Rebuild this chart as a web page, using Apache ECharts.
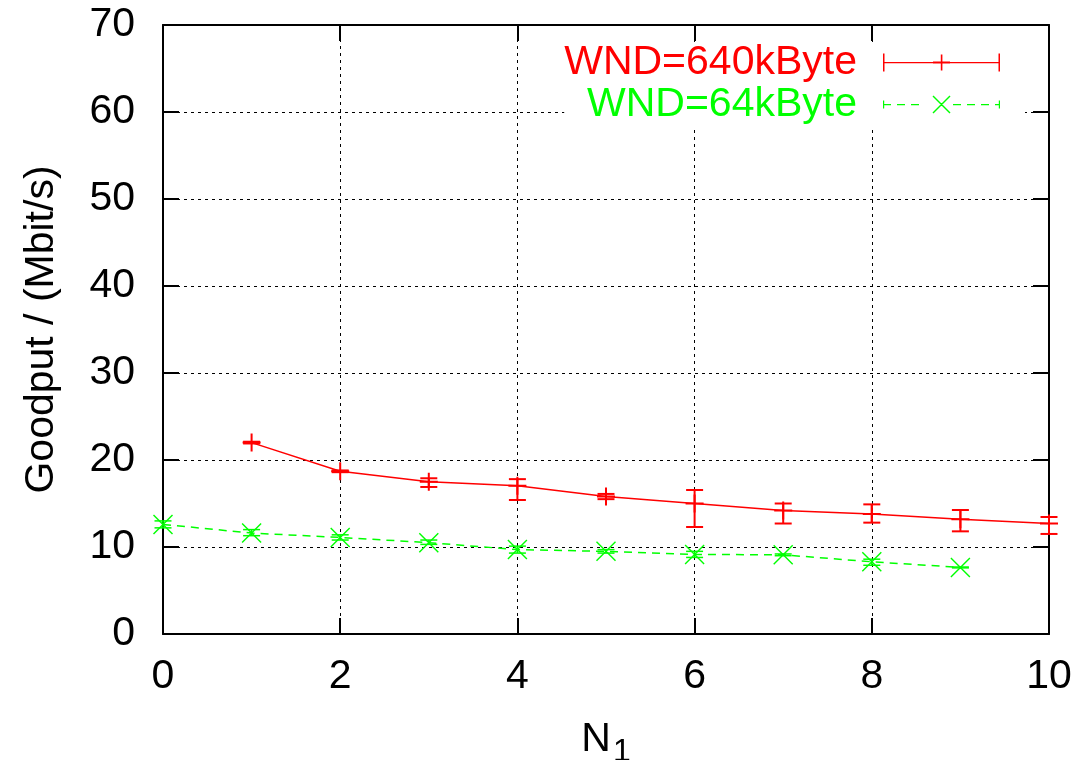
<!DOCTYPE html>
<html>
<head>
<meta charset="utf-8">
<title>Goodput over N1</title>
<script src="https://cdn.jsdelivr.net/npm/echarts@6/dist/echarts.min.js"></script>
<style>
  html, body { margin: 0; padding: 0; background: #fff; }
  #chart { width: 1090px; height: 760px; }
</style>
</head>
<body>
<div id="chart"></div>
<script>
// values
const n1Big = [1, 2, 3, 4, 5, 6, 7, 8, 9, 10]
const goodputBig = [22.0, 18.7, 17.5, 17.05, 15.8, 15.0, 14.2, 13.8, 13.2, 12.7]
const lowBig = [21.9, 18.6, 16.9, 15.4, 15.5, 12.3, 12.7, 12.8, 11.8, 11.5]
const highBig = [22.1, 18.8, 17.9, 17.8, 16.1, 16.55, 15.0, 14.9, 14.25, 13.45]

const n1Small = [0, 1, 2, 3, 4, 5, 6, 7, 8, 9]
const goodputSmall = [12.6, 11.6, 11.1, 10.5, 9.7, 9.5, 9.15, 9.1, 8.3, 7.65]
const lowSmall = [12.2, 11.3, 10.8, 10.3, 9.3, 9.3, 8.8, 9.0, 7.9, 7.6]
const highSmall = [13.0, 12.0, 11.4, 10.8, 10.1, 9.7, 9.5, 9.2, 8.6, 7.7]

const xTicks = [0, 2, 4, 6, 8, 10]
const yTicks = [0, 10, 20, 30, 40, 50, 60, 70]

const RED = '#ff0000'
const GREEN = '#00ff00'
const FONT = '"Liberation Sans", Arial, Helvetica, sans-serif'
const FS = 41

const plusSymbol = 'path://M8,0h2v18h-2zM0,8h18v2h-18z'
const crossSymbol = 'path://M0,1L1,0L20,19L19,20ZM19,0L20,1L1,20L0,19Z'

// legend samples in gnuplot style: |----+----|  and  |- - x - -|
const redKey = 'path://M0,0h1.5v18h-1.5zM115.5,0h1.5v18h-1.5zM0,8.5h117v1.2h-117z' +
  'M57.8,1h1.6v16h-1.6zM50,8h17v2h-17z'
let greenDash = ''
for (let x = 0; x < 117; x += 14) {
  if (x + 8 > 49 && x < 68) continue
  greenDash += 'M' + x + ',8.5h' + Math.min(8, 117 - x) + 'v1.2h-' + Math.min(8, 117 - x) + 'z'
}
const greenKey = 'path://M0,5h1.2v8h-1.2zM115.8,5h1.2v8h-1.2z' + greenDash +
  'M49.5,1L50.5,0L67.5,17L66.5,18ZM66.5,0L67.5,1L50.5,18L49.5,17Z'

const chart = echarts.init(document.getElementById('chart'), null, { renderer: 'canvas' })

// error bars: vertical line with caps, placed through the axes
const errorBars = (color, width) => (params, api) => {
  const x = api.value(0)
  const lo = api.coord([x, api.value(1)])
  const hi = api.coord([x, api.value(2)])
  const half = 8.5
  const style = { stroke: color, lineWidth: width }
  return {
    type: 'group',
    children: [
      { type: 'line', shape: { x1: lo[0], y1: lo[1], x2: hi[0], y2: hi[1] }, style },
      { type: 'line', shape: { x1: lo[0] - half, y1: lo[1], x2: lo[0] + half, y2: lo[1] }, style },
      { type: 'line', shape: { x1: hi[0] - half, y1: hi[1], x2: hi[0] + half, y2: hi[1] }, style }
    ]
  }
}

const frameAxis = {
  axisLine: { show: true, onZero: false, lineStyle: { color: '#000', width: 2 } },
  axisTick: { show: true, inside: true, length: 16, lineStyle: { color: '#000', width: 2 } }
}

const option = {
  animation: false,
  backgroundColor: '#fff',
  textStyle: { fontFamily: FONT },
  grid: { left: 163, right: 41, top: 25, bottom: 126, outerBoundsMode: 'none', containLabel: false },
  legend: {
    orient: 'vertical',
    right: 65,
    top: 42,
    align: 'right',
    backgroundColor: '#fff',
    padding: [0, 25, 2, 0],
    itemWidth: 117,
    itemHeight: 18,
    itemGap: 1,
    textStyle: { fontSize: FS, fontFamily: FONT, lineHeight: 38, padding: [0, 21, 0, 0] },
    data: [
      { name: 'WND=640kByte', icon: redKey, textStyle: { color: RED } },
      { name: 'WND=64kByte', icon: greenKey, textStyle: { color: GREEN } }
    ]
  },
  xAxis: [
    {
      type: 'value', min: 0, max: 10, interval: 2,
      ...frameAxis,
      name: '{n|N}{s|1}',
      nameLocation: 'middle',
      nameGap: 78,
      nameTextStyle: {
        rich: {
          n: { fontSize: FS, fontFamily: FONT, color: '#000' },
          s: { fontSize: 32, fontFamily: FONT, color: '#000', padding: [24, 0, 0, 2] }
        }
      },
      axisLabel: { fontSize: FS, color: '#000', margin: 22, fontFamily: FONT,
        formatter: v => xTicks.includes(v) ? String(v) : '' },
      splitLine: { show: true, lineStyle: { color: '#000', width: 1, type: [3, 4] } }
    },
    {
      type: 'value', min: 0, max: 10, interval: 2, position: 'top',
      ...frameAxis,
      axisLabel: { show: false },
      splitLine: { show: false }
    }
  ],
  yAxis: [
    {
      type: 'value', min: 0, max: 70, interval: 10,
      ...frameAxis,
      name: 'Goodput / (Mbit/s)',
      nameLocation: 'middle',
      nameRotate: 90,
      nameGap: 101,
      nameTextStyle: { fontSize: FS, color: '#000', fontFamily: FONT },
      axisLabel: { fontSize: FS, color: '#000', margin: 28, fontFamily: FONT,
        formatter: v => yTicks.includes(v) ? String(v) : '' },
      splitLine: { show: true, lineStyle: { color: '#000', width: 1, type: [3, 4] } }
    },
    {
      type: 'value', min: 0, max: 70, interval: 10, position: 'right',
      ...frameAxis,
      axisLabel: { show: false },
      splitLine: { show: false }
    }
  ],
  series: [
    {
      name: 'WND=640kByte',
      type: 'line',
      data: n1Big.map((x, i) => [x, goodputBig[i]]),
      symbol: plusSymbol,
      symbolSize: 18,
      itemStyle: { color: RED },
      lineStyle: { color: RED, width: 1.5 },
      z: 3
    },
    {
      name: 'WND=640kByte',
      type: 'custom',
      renderItem: errorBars(RED, 2),
      encode: { x: 0, y: [1, 2] },
      data: n1Big.map((x, i) => [x, lowBig[i], highBig[i]]),
      z: 3
    },
    {
      name: 'WND=64kByte',
      type: 'line',
      data: n1Small.map((x, i) => [x, goodputSmall[i]]),
      symbol: crossSymbol,
      symbolSize: 20,
      itemStyle: { color: GREEN },
      lineStyle: { color: GREEN, width: 1.5, type: [8, 6] },
      z: 4
    },
    {
      name: 'WND=64kByte',
      type: 'custom',
      renderItem: errorBars(GREEN, 1.5),
      encode: { x: 0, y: [1, 2] },
      data: n1Small.map((x, i) => [x, lowSmall[i], highSmall[i]]),
      z: 4
    }
  ]
}

chart.setOption(option)
window.addEventListener('resize', () => chart.resize())
</script>
</body>
</html>
